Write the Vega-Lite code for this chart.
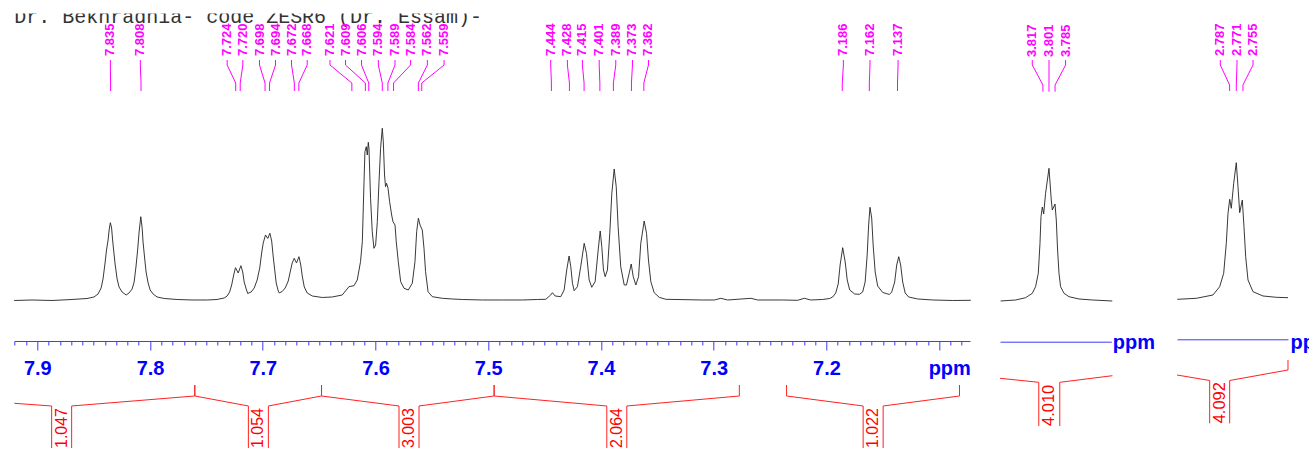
{
"$schema":"https://vega.github.io/schema/vega-lite/v6.json",
"padding":{"left":12.3,"top":13.5,"right":0,"bottom":0},
"background":"white",
"config":{"view":{"stroke":null},"axisY":{"disable":true}},
"datasets":{
"s1":[
{"ppm":7.9205,"i":-0.5},{"ppm":7.9047,"i":0},{"ppm":7.8869,"i":-0.5},{"ppm":7.8692,"i":0.5},{"ppm":7.8559,"i":1.5},{"ppm":7.8497,"i":3},{"ppm":7.8461,"i":6},{"ppm":7.8434,"i":12},{"ppm":7.8417,"i":21},{"ppm":7.8399,"i":37},{"ppm":7.8386,"i":50},{"ppm":7.8372,"i":60},{"ppm":7.8363,"i":70},{"ppm":7.8352,"i":77.3},{"ppm":7.8341,"i":72},{"ppm":7.8332,"i":60},{"ppm":7.8323,"i":50},{"ppm":7.8310,"i":36},{"ppm":7.8292,"i":21},{"ppm":7.8275,"i":13},{"ppm":7.8248,"i":8},{"ppm":7.8212,"i":5},{"ppm":7.8186,"i":7},{"ppm":7.8159,"i":11},{"ppm":7.8141,"i":18},{"ppm":7.8124,"i":34},{"ppm":7.8110,"i":50},{"ppm":7.8097,"i":68},{"ppm":7.8082,"i":83.3},{"ppm":7.8070,"i":72},{"ppm":7.8062,"i":58},{"ppm":7.8048,"i":42},{"ppm":7.8035,"i":28},{"ppm":7.8017,"i":17},{"ppm":7.7999,"i":10},{"ppm":7.7973,"i":6},{"ppm":7.7937,"i":3},{"ppm":7.7875,"i":1.5},{"ppm":7.7760,"i":0.5},{"ppm":7.7627,"i":0},{"ppm":7.7493,"i":0},{"ppm":7.7405,"i":0.5},{"ppm":7.7343,"i":2},{"ppm":7.7316,"i":4},{"ppm":7.7294,"i":8},{"ppm":7.7276,"i":15},{"ppm":7.7258,"i":25},{"ppm":7.7242,"i":32.3},{"ppm":7.7218,"i":27},{"ppm":7.7194,"i":34.3},{"ppm":7.7178,"i":28},{"ppm":7.7165,"i":18},{"ppm":7.7147,"i":11},{"ppm":7.7134,"i":6.5},{"ppm":7.7103,"i":8},{"ppm":7.7076,"i":12},{"ppm":7.7050,"i":20},{"ppm":7.7027,"i":32},{"ppm":7.7010,"i":47},{"ppm":7.6996,"i":57},{"ppm":7.6976,"i":65},{"ppm":7.6956,"i":61.5},{"ppm":7.6937,"i":66.7},{"ppm":7.6921,"i":59},{"ppm":7.6908,"i":44},{"ppm":7.6894,"i":30},{"ppm":7.6881,"i":17},{"ppm":7.6863,"i":9},{"ppm":7.6854,"i":7},{"ppm":7.6828,"i":8.5},{"ppm":7.6801,"i":12},{"ppm":7.6774,"i":19},{"ppm":7.6757,"i":28},{"ppm":7.6739,"i":37},{"ppm":7.6721,"i":41.7},{"ppm":7.6701,"i":37},{"ppm":7.6679,"i":43.3},{"ppm":7.6663,"i":35},{"ppm":7.6650,"i":24},{"ppm":7.6632,"i":13},{"ppm":7.6606,"i":7},{"ppm":7.6561,"i":4},{"ppm":7.6473,"i":2.5},{"ppm":7.6384,"i":3},{"ppm":7.6295,"i":5},{"ppm":7.6236,"i":13.3},{"ppm":7.6191,"i":14.3},{"ppm":7.6162,"i":20},{"ppm":7.6133,"i":38.3},{"ppm":7.6117,"i":58.3},{"ppm":7.6102,"i":118.3},{"ppm":7.6094,"i":148.3},{"ppm":7.6082,"i":153.3},{"ppm":7.6073,"i":145},{"ppm":7.6064,"i":157.7},{"ppm":7.6058,"i":151.7},{"ppm":7.6044,"i":101.7},{"ppm":7.6029,"i":68.3},{"ppm":7.6014,"i":51.7},{"ppm":7.5999,"i":55},{"ppm":7.5984,"i":78.3},{"ppm":7.5969,"i":118.3},{"ppm":7.5955,"i":151.7},{"ppm":7.5940,"i":171.7},{"ppm":7.5931,"i":158.3},{"ppm":7.5920,"i":125},{"ppm":7.5911,"i":113.3},{"ppm":7.5902,"i":116.7},{"ppm":7.5889,"i":111.7},{"ppm":7.5875,"i":98.3},{"ppm":7.5857,"i":85},{"ppm":7.5845,"i":78.3},{"ppm":7.5827,"i":75},{"ppm":7.5816,"i":58.3},{"ppm":7.5798,"i":38.3},{"ppm":7.5777,"i":18.3},{"ppm":7.5747,"i":11.7},{"ppm":7.5709,"i":10},{"ppm":7.5674,"i":16.7},{"ppm":7.5650,"i":38.3},{"ppm":7.5635,"i":68.3},{"ppm":7.5620,"i":81.7},{"ppm":7.5605,"i":75},{"ppm":7.5585,"i":70},{"ppm":7.5570,"i":51.7},{"ppm":7.5556,"i":28.3},{"ppm":7.5534,"i":8.3},{"ppm":7.5496,"i":3.3},{"ppm":7.5407,"i":1.7},{"ppm":7.5318,"i":1},{"ppm":7.5230,"i":0.5},{"ppm":7.5052,"i":0},{"ppm":7.4875,"i":0},{"ppm":7.4697,"i":0},{"ppm":7.4564,"i":0.5},{"ppm":7.4490,"i":0.7},{"ppm":7.4446,"i":5},{"ppm":7.4431,"i":7.3},{"ppm":7.4407,"i":4},{"ppm":7.4357,"i":3.3},{"ppm":7.4327,"i":10},{"ppm":7.4304,"i":30},{"ppm":7.4283,"i":44},{"ppm":7.4268,"i":33.3},{"ppm":7.4253,"i":16.7},{"ppm":7.4238,"i":9.3},{"ppm":7.4209,"i":13.3},{"ppm":7.4180,"i":33.3},{"ppm":7.4149,"i":56.7},{"ppm":7.4129,"i":46.7},{"ppm":7.4105,"i":20},{"ppm":7.4082,"i":12.7},{"ppm":7.4052,"i":18.3},{"ppm":7.4025,"i":50},{"ppm":7.4007,"i":69},{"ppm":7.3993,"i":53.3},{"ppm":7.3978,"i":30},{"ppm":7.3963,"i":23.3},{"ppm":7.3943,"i":30},{"ppm":7.3922,"i":66.7},{"ppm":7.3904,"i":106.7},{"ppm":7.3883,"i":131},{"ppm":7.3865,"i":113.3},{"ppm":7.3848,"i":73.3},{"ppm":7.3825,"i":33.3},{"ppm":7.3794,"i":15},{"ppm":7.3774,"i":15},{"ppm":7.3750,"i":26.7},{"ppm":7.3732,"i":36},{"ppm":7.3714,"i":23.3},{"ppm":7.3691,"i":15},{"ppm":7.3667,"i":23.3},{"ppm":7.3647,"i":56.7},{"ppm":7.3617,"i":79},{"ppm":7.3596,"i":66.7},{"ppm":7.3579,"i":40},{"ppm":7.3558,"i":18.3},{"ppm":7.3528,"i":7.3},{"ppm":7.3484,"i":2.7},{"ppm":7.3425,"i":0.7},{"ppm":7.3099,"i":0},{"ppm":7.2993,"i":0},{"ppm":7.2937,"i":1.7},{"ppm":7.2877,"i":0},{"ppm":7.2670,"i":1.7},{"ppm":7.2611,"i":0},{"ppm":7.2389,"i":0},{"ppm":7.2256,"i":-0.3},{"ppm":7.2196,"i":1.7},{"ppm":7.2140,"i":0},{"ppm":7.2034,"i":0.5},{"ppm":7.1972,"i":1.5},{"ppm":7.1945,"i":3},{"ppm":7.1918,"i":7},{"ppm":7.1896,"i":16},{"ppm":7.1879,"i":35},{"ppm":7.1856,"i":52.3},{"ppm":7.1834,"i":38},{"ppm":7.1816,"i":20},{"ppm":7.1794,"i":10},{"ppm":7.1750,"i":6},{"ppm":7.1708,"i":5.7},{"ppm":7.1679,"i":8},{"ppm":7.1657,"i":18},{"ppm":7.1639,"i":45},{"ppm":7.1626,"i":75},{"ppm":7.1614,"i":92.7},{"ppm":7.1599,"i":82},{"ppm":7.1586,"i":55},{"ppm":7.1568,"i":28},{"ppm":7.1546,"i":14},{"ppm":7.1501,"i":7.5},{"ppm":7.1442,"i":5.5},{"ppm":7.1421,"i":8},{"ppm":7.1395,"i":18},{"ppm":7.1377,"i":35},{"ppm":7.1359,"i":43.3},{"ppm":7.1342,"i":35},{"ppm":7.1324,"i":18},{"ppm":7.1302,"i":7},{"ppm":7.1271,"i":3},{"ppm":7.1191,"i":1},{"ppm":7.1057,"i":0},{"ppm":7.0880,"i":-0.5},{"ppm":7.0720,"i":-0.3}
],
"s2":[
{"ppm":3.9284,"i":-1},{"ppm":3.8889,"i":0},{"ppm":3.8626,"i":2.3},{"ppm":3.8450,"i":6.7},{"ppm":3.8363,"i":13.3},{"ppm":3.8292,"i":26.7},{"ppm":3.8247,"i":56.7},{"ppm":3.8221,"i":83.3},{"ppm":3.8186,"i":93},{"ppm":3.8150,"i":86},{"ppm":3.8100,"i":106.7},{"ppm":3.8010,"i":131.7},{"ppm":3.7950,"i":100},{"ppm":3.7923,"i":90},{"ppm":3.7852,"i":96},{"ppm":3.7818,"i":80},{"ppm":3.7784,"i":50},{"ppm":3.7747,"i":26.7},{"ppm":3.7705,"i":13.3},{"ppm":3.7615,"i":6.7},{"ppm":3.7484,"i":3.3},{"ppm":3.7220,"i":1},{"ppm":3.6870,"i":0},{"ppm":3.6344,"i":-1}
],
"s3":[
{"ppm":2.9128,"i":0.7},{"ppm":2.8671,"i":1.7},{"ppm":2.8270,"i":5},{"ppm":2.8109,"i":13.3},{"ppm":2.8013,"i":26.7},{"ppm":2.7950,"i":56.7},{"ppm":2.7909,"i":86.7},{"ppm":2.7868,"i":100.7},{"ppm":2.7830,"i":91.7},{"ppm":2.7772,"i":116.7},{"ppm":2.7710,"i":137.3},{"ppm":2.7669,"i":113.3},{"ppm":2.7628,"i":87.3},{"ppm":2.7565,"i":100},{"ppm":2.7525,"i":73.3},{"ppm":2.7484,"i":43.3},{"ppm":2.7428,"i":20},{"ppm":2.7308,"i":8.3},{"ppm":2.7068,"i":4},{"ppm":2.6748,"i":2.7},{"ppm":2.6467,"i":2.3}
],
"peaks":[
{"panel":1,"ppm":7.835,"label_at":7.8352},{"panel":1,"ppm":7.808,"label_at":7.8086},{"panel":1,"ppm":7.724,"label_at":7.7316},{"panel":1,"ppm":7.720,"label_at":7.7177},{"panel":1,"ppm":7.698,"label_at":7.7029},{"panel":1,"ppm":7.694,"label_at":7.6887},{"panel":1,"ppm":7.672,"label_at":7.6745},{"panel":1,"ppm":7.668,"label_at":7.6606},{"panel":1,"ppm":7.621,"label_at":7.6404},{"panel":1,"ppm":7.609,"label_at":7.6266},{"panel":1,"ppm":7.606,"label_at":7.6124},{"panel":1,"ppm":7.594,"label_at":7.5975},{"panel":1,"ppm":7.589,"label_at":7.5827},{"panel":1,"ppm":7.584,"label_at":7.5689},{"panel":1,"ppm":7.562,"label_at":7.5540},{"panel":1,"ppm":7.559,"label_at":7.5392},{"panel":1,"ppm":7.444,"label_at":7.4446},{"panel":1,"ppm":7.428,"label_at":7.4298},{"panel":1,"ppm":7.415,"label_at":7.4165},{"panel":1,"ppm":7.401,"label_at":7.4016},{"panel":1,"ppm":7.389,"label_at":7.3869},{"panel":1,"ppm":7.373,"label_at":7.3721},{"panel":1,"ppm":7.362,"label_at":7.3579},{"panel":1,"ppm":7.186,"label_at":7.1850},{"panel":1,"ppm":7.162,"label_at":7.1614},{"panel":1,"ppm":7.137,"label_at":7.1365},
{"panel":2,"ppm":3.817,"label_at":3.845},{"panel":2,"ppm":3.801,"label_at":3.801},{"panel":2,"ppm":3.785,"label_at":3.7573},
{"panel":3,"ppm":2.787,"label_at":2.8094},{"panel":3,"ppm":2.771,"label_at":2.7693},{"panel":3,"ppm":2.755,"label_at":2.7308}
],
"integrals":[
{"panel":1,"from":8.0103,"to":7.7603,"center":7.8784,"value":"1.047"},
{"panel":1,"from":7.7603,"to":7.6479,"center":7.7039,"value":"1.054"},
{"panel":1,"from":7.6479,"to":7.4948,"center":7.5703,"value":"3.003"},
{"panel":1,"from":7.4948,"to":7.2773,"center":7.3860,"value":"2.064"},
{"panel":1,"from":7.2354,"to":7.0820,"center":7.1586,"value":"1.022"},
{"panel":2,"from":3.930,"to":3.634,"center":3.8003,"value":"4.010"},
{"panel":3,"from":2.9135,"to":2.6467,"center":2.8109,"value":"4.092"}
]
},
"bounds":"flush",
"spacing":29.7,
"hconcat":[
{
"width":955.7,"height":437.5,
"resolve":{"axis":{"x":"independent"}},
"layer":[
{"data":{"name":"s1"},"mark":{"type":"line","color":"#222222","strokeWidth":0.9},
 "encoding":{
  "x":{"field":"ppm","type":"quantitative","scale":{"domain":[7.0727,7.9204],"reverse":true,"nice":false,"zero":false},
   "axis":{"orient":"bottom","offset":-110,"title":null,"grid":false,
    "values":[7.08,7.09,7.1,7.11,7.12,7.13,7.14,7.15,7.16,7.17,7.18,7.19,7.2,7.21,7.22,7.23,7.24,7.25,7.26,7.27,7.28,7.29,7.3,7.31,7.32,7.33,7.34,7.35,7.36,7.37,7.38,7.39,7.4,7.41,7.42,7.43,7.44,7.45,7.46,7.47,7.48,7.49,7.5,7.51,7.52,7.53,7.54,7.55,7.56,7.57,7.58,7.59,7.6,7.61,7.62,7.63,7.64,7.65,7.66,7.67,7.68,7.69,7.7,7.71,7.72,7.73,7.74,7.75,7.76,7.77,7.78,7.79,7.8,7.81,7.82,7.83,7.84,7.85,7.86,7.87,7.88,7.89,7.9,7.91,7.92],
    "domainColor":"#3a3aff","domainWidth":1,"tickColor":"#3a3aff","tickWidth":1,
    "tickSize":{"condition":{"test":"abs(datum.value*10-round(datum.value*10))<0.001","value":9},"value":4},
    "labelExpr":"abs(datum.value*10-round(datum.value*10))<0.001 ? (abs(datum.value-7.1)<0.001 ? 'ppm' : format(datum.value,'.1f')) : ''",
    "labelOffset":{"condition":{"test":"abs(datum.value-7.1)<0.001","value":10},"value":0},
    "labelFont":"Liberation Sans","labelFontSize":20,"labelFontWeight":"bold","labelColor":"#0000ff",
    "labelBaseline":"alphabetic","labelPadding":25,"labelOverlap":false,"labelFlush":false,"labelBound":false}},
  "y":{"field":"i","type":"quantitative","scale":{"domain":[-151,286.5],"nice":false,"zero":false}}}},
{"data":{"values":[{}]},"mark":{"type":"text","text":"Dr. Bekhradnia- code ZESR6 (Dr. Essam)-","font":"Liberation Mono","fontSize":20,"align":"left","baseline":"alphabetic","color":"#333333","clip":true},
 "encoding":{"x":{"datum":7.9204,"axis":null},"y":{"datum":276.7}}},
{"data":{"name":"peaks"},"transform":[{"filter":"datum.panel==1"}],
 "layer":[
  {"mark":{"type":"text","angle":270,"align":"left","baseline":"middle","font":"Liberation Sans","fontSize":13,"fontWeight":"bold","color":"#ff00ff"},
   "encoding":{"x":{"field":"label_at","type":"quantitative","axis":null},"y":{"datum":244},"text":{"field":"ppm","type":"quantitative","format":".3f"}}},
  {"mark":{"type":"rule","color":"#ff00ff","strokeWidth":1},"encoding":{"x":{"field":"label_at","type":"quantitative","axis":null},"y":{"datum":240},"y2":{"datum":235}}},
  {"mark":{"type":"rule","color":"#ff00ff","strokeWidth":1},"encoding":{"x":{"field":"label_at","type":"quantitative","axis":null},"x2":{"field":"ppm"},"y":{"datum":235},"y2":{"datum":217}}},
  {"mark":{"type":"rule","color":"#ff00ff","strokeWidth":1},"encoding":{"x":{"field":"ppm","type":"quantitative","axis":null},"y":{"datum":217},"y2":{"datum":209}}}
 ]},
{"data":{"name":"integrals"},"transform":[{"filter":"datum.panel==1"}],
 "layer":[
  {"mark":{"type":"text","angle":270,"align":"left","baseline":"middle","font":"Liberation Sans","fontSize":16,"color":"#ff0000"},
   "encoding":{"x":{"field":"center","type":"quantitative","axis":null},"y":{"datum":-148},"text":{"field":"value","type":"nominal"}}},
  {"mark":{"type":"rule","color":"#ff2020","strokeWidth":1,"clip":true,"x2Offset":-10},"encoding":{"x":{"field":"from","type":"quantitative","axis":null},"x2":{"field":"center"},"y":{"datum":-96},"y2":{"datum":-106}}},
  {"mark":{"type":"rule","color":"#ff2020","strokeWidth":1,"clip":true,"xOffset":10},"encoding":{"x":{"field":"center","type":"quantitative","axis":null},"x2":{"field":"to"},"y":{"datum":-106},"y2":{"datum":-96}}},
  {"mark":{"type":"rule","color":"#ff2020","strokeWidth":1,"xOffset":-10},"encoding":{"x":{"field":"center","type":"quantitative","axis":null},"y":{"datum":-106},"y2":{"datum":-148}}},
  {"mark":{"type":"rule","color":"#ff2020","strokeWidth":1,"xOffset":10},"encoding":{"x":{"field":"center","type":"quantitative","axis":null},"y":{"datum":-106},"y2":{"datum":-148}}},
  {"mark":{"type":"rule","color":"#ff2020","strokeWidth":1,"clip":true},"encoding":{"x":{"field":"from","type":"quantitative","axis":null},"y":{"datum":-96},"y2":{"datum":-85}}},
  {"mark":{"type":"rule","color":"#ff2020","strokeWidth":1,"clip":true},"encoding":{"x":{"field":"to","type":"quantitative","axis":null},"y":{"datum":-96},"y2":{"datum":-85}}}
 ]}
]
},
{
"bounds":"flush",
"spacing":65,
"hconcat":[
{
"width":111.3,"height":437.5,
"resolve":{"axis":{"x":"independent"}},
"layer":[
{"data":{"name":"s2"},"mark":{"type":"line","color":"#222222","strokeWidth":0.9},
 "encoding":{
  "x":{"field":"ppm","type":"quantitative","scale":{"domain":[3.637,3.930],"reverse":true,"nice":false,"zero":false},
   "axis":{"orient":"bottom","offset":-109.3,"ticks":false,"labels":false,"grid":false,"domainColor":"#3a3aff","domainWidth":1,
    "title":"ppm","titleX":112.3,"titleY":7.3,"titleAlign":"left","titleBaseline":"alphabetic","titleAngle":0,"titleFont":"Liberation Sans","titleFontSize":20,"titleFontWeight":"bold","titleColor":"#0000ff"}},
  "y":{"field":"i","type":"quantitative","scale":{"domain":[-151,286.5],"nice":false,"zero":false}}}},
{"data":{"name":"peaks"},"transform":[{"filter":"datum.panel==2"}],
 "layer":[
  {"mark":{"type":"text","angle":270,"align":"left","baseline":"middle","font":"Liberation Sans","fontSize":13,"fontWeight":"bold","color":"#ff00ff"},
   "encoding":{"x":{"field":"label_at","type":"quantitative","axis":null},"y":{"datum":243},"text":{"field":"ppm","type":"quantitative","format":".3f"}}},
  {"mark":{"type":"rule","color":"#ff00ff","strokeWidth":1},"encoding":{"x":{"field":"label_at","type":"quantitative","axis":null},"y":{"datum":240},"y2":{"datum":235}}},
  {"mark":{"type":"rule","color":"#ff00ff","strokeWidth":1},"encoding":{"x":{"field":"label_at","type":"quantitative","axis":null},"x2":{"field":"ppm"},"y":{"datum":235},"y2":{"datum":215}}},
  {"mark":{"type":"rule","color":"#ff00ff","strokeWidth":1},"encoding":{"x":{"field":"ppm","type":"quantitative","axis":null},"y":{"datum":215},"y2":{"datum":208.3}}}
 ]},
{"data":{"name":"integrals"},"transform":[{"filter":"datum.panel==2"}],
 "layer":[
  {"mark":{"type":"text","angle":270,"align":"left","baseline":"middle","font":"Liberation Sans","fontSize":16.5,"color":"#ff0000"},
   "encoding":{"x":{"field":"center","type":"quantitative","axis":null},"y":{"datum":-126},"text":{"field":"value","type":"nominal"}}},
  {"mark":{"type":"rule","color":"#ff2020","strokeWidth":1,"x2Offset":-10.5},"encoding":{"x":{"field":"from","type":"quantitative","axis":null},"x2":{"field":"center"},"y":{"datum":-78.3},"y2":{"datum":-82.3}}},
  {"mark":{"type":"rule","color":"#ff2020","strokeWidth":1,"xOffset":10.5},"encoding":{"x":{"field":"center","type":"quantitative","axis":null},"x2":{"field":"to"},"y":{"datum":-82.3},"y2":{"datum":-75.7}}},
  {"mark":{"type":"rule","color":"#ff2020","strokeWidth":1,"xOffset":-10.5},"encoding":{"x":{"field":"center","type":"quantitative","axis":null},"y":{"datum":-82.3},"y2":{"datum":-126}}},
  {"mark":{"type":"rule","color":"#ff2020","strokeWidth":1,"xOffset":10.5},"encoding":{"x":{"field":"center","type":"quantitative","axis":null},"y":{"datum":-82.3},"y2":{"datum":-126}}}
 ]}
]
},
{
"width":111,"height":437.5,
"resolve":{"axis":{"x":"independent"}},
"layer":[
{"data":{"name":"s3"},"mark":{"type":"line","color":"#222222","strokeWidth":0.9},
 "encoding":{
  "x":{"field":"ppm","type":"quantitative","scale":{"domain":[2.6467,2.9135],"reverse":true,"nice":false,"zero":false},
   "axis":{"orient":"bottom","offset":-111.7,"ticks":false,"labels":false,"grid":false,"domainColor":"#3a3aff","domainWidth":1,
    "title":"ppm","titleX":113,"titleY":9.7,"titleAlign":"left","titleBaseline":"alphabetic","titleAngle":0,"titleFont":"Liberation Sans","titleFontSize":20,"titleFontWeight":"bold","titleColor":"#0000ff"}},
  "y":{"field":"i","type":"quantitative","scale":{"domain":[-151,286.5],"nice":false,"zero":false}}}},
{"data":{"name":"peaks"},"transform":[{"filter":"datum.panel==3"}],
 "layer":[
  {"mark":{"type":"text","angle":270,"align":"left","baseline":"middle","font":"Liberation Sans","fontSize":13,"fontWeight":"bold","color":"#ff00ff"},
   "encoding":{"x":{"field":"label_at","type":"quantitative","axis":null},"y":{"datum":244},"text":{"field":"ppm","type":"quantitative","format":".3f"}}},
  {"mark":{"type":"rule","color":"#ff00ff","strokeWidth":1},"encoding":{"x":{"field":"label_at","type":"quantitative","axis":null},"y":{"datum":240},"y2":{"datum":235}}},
  {"mark":{"type":"rule","color":"#ff00ff","strokeWidth":1},"encoding":{"x":{"field":"label_at","type":"quantitative","axis":null},"x2":{"field":"ppm"},"y":{"datum":235},"y2":{"datum":215}}},
  {"mark":{"type":"rule","color":"#ff00ff","strokeWidth":1},"encoding":{"x":{"field":"ppm","type":"quantitative","axis":null},"y":{"datum":215},"y2":{"datum":209}}}
 ]},
{"data":{"name":"integrals"},"transform":[{"filter":"datum.panel==3"}],
 "layer":[
  {"mark":{"type":"text","angle":270,"align":"left","baseline":"middle","font":"Liberation Sans","fontSize":16.5,"color":"#ff0000"},
   "encoding":{"x":{"field":"center","type":"quantitative","axis":null},"y":{"datum":-123.3},"text":{"field":"value","type":"nominal"}}},
  {"mark":{"type":"rule","color":"#ff2020","strokeWidth":1,"x2Offset":-10},"encoding":{"x":{"field":"from","type":"quantitative","axis":null},"x2":{"field":"center"},"y":{"datum":-75},"y2":{"datum":-80.5}}},
  {"mark":{"type":"rule","color":"#ff2020","strokeWidth":1,"xOffset":10},"encoding":{"x":{"field":"center","type":"quantitative","axis":null},"x2":{"field":"to"},"y":{"datum":-80.5},"y2":{"datum":-70}}},
  {"mark":{"type":"rule","color":"#ff2020","strokeWidth":1,"xOffset":-10},"encoding":{"x":{"field":"center","type":"quantitative","axis":null},"y":{"datum":-80.5},"y2":{"datum":-123.3}}},
  {"mark":{"type":"rule","color":"#ff2020","strokeWidth":1,"xOffset":10},"encoding":{"x":{"field":"center","type":"quantitative","axis":null},"y":{"datum":-80.5},"y2":{"datum":-123.3}}},
  {"mark":{"type":"rule","color":"#ff2020","strokeWidth":1},"encoding":{"x":{"field":"to","type":"quantitative","axis":null},"y":{"datum":-70},"y2":{"datum":-60}}}
 ]}
]
}
]
}
]
}
